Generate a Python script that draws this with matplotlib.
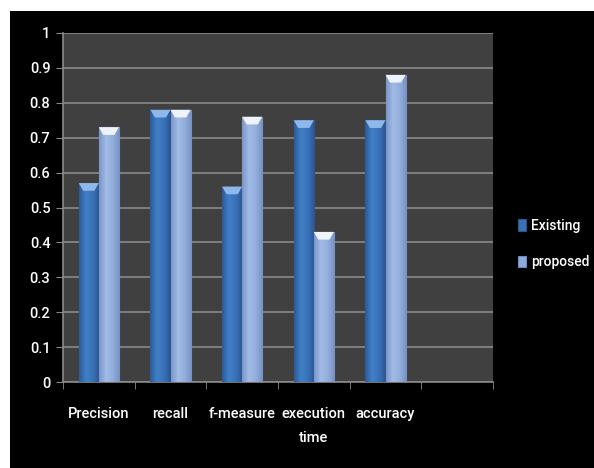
import numpy as np
import matplotlib.pyplot as plt
from matplotlib.patches import Rectangle
from matplotlib.colors import LinearSegmentedColormap

categories = ['Precision', 'recall', 'f-measure', 'execution\ntime', 'accuracy']
existing = [0.57, 0.78, 0.56, 0.75, 0.75]
proposed = [0.73, 0.78, 0.76, 0.43, 0.88]
yticks = [0, 0.1, 0.2, 0.3, 0.4, 0.5, 0.6, 0.7, 0.8, 0.9, 1]

plt.rcParams['font.family'] = ['Roboto', 'DejaVu Sans']
plt.rcParams['font.weight'] = 'medium'

fig = plt.figure(figsize=(5.94, 4.68), dpi=100, facecolor='white')
# black frame with thin white strip at left and top
fig.patches.append(Rectangle((10/594, 0), 1, 1 - 11/468, transform=fig.transFigure,
                             facecolor='black', edgecolor='none', zorder=-10))

ax = fig.add_axes([63/594, 1 - 382/468, 430/594, 349/468])
ax.set_facecolor('#404040')

x = np.arange(len(categories))
w = 0.28
b1 = ax.bar(x - w/2, existing, w, color='#3a70b5', edgecolor='#2a568e', linewidth=0.8,
            label='Existing', zorder=3)
b2 = ax.bar(x + w/2, proposed, w, color='#8ea9da', edgecolor='#6f8bbd', linewidth=0.8,
            label='proposed', zorder=3)

# horizontal shading and light bevel on the bar tops
grad1 = LinearSegmentedColormap.from_list('g1', ['#2b5a98', '#4080c8', '#3a72b8', '#2a5590'])
grad2 = LinearSegmentedColormap.from_list('g2', ['#7a95c8', '#a2bbe6', '#93aedd', '#7690c2'])
row = np.linspace(0, 1, 64).reshape(1, -1)
for bars, cmap, cap in ((b1, grad1, '#8fb8ea'), (b2, grad2, '#eef3fc')):
    for r in bars:
        x0, bw, h = r.get_x(), r.get_width(), r.get_height()
        im = ax.imshow(row, cmap=cmap, aspect='auto', extent=(x0, x0 + bw, 0, h),
                       zorder=3.5, interpolation='bicubic')
        im.set_clip_path(r)
        ax.fill([x0, x0 + bw, x0 + bw*0.78, x0 + bw*0.22],
                [h, h, h - 0.022, h - 0.022], color=cap, zorder=4, lw=0)

ax.set_xlim(-0.5, 5.5)
ax.set_ylim(0, 1)
ax.set_yticks(yticks)
ax.set_yticklabels([f'{v:g}' for v in yticks])
ax.yaxis.grid(True, color='#8a8a8a', linewidth=1.2, zorder=0)
ax.set_axisbelow(True)

ax.set_xticks(x)
ax.set_xticklabels(categories)
ax.set_xticks(np.arange(-0.5, 6.0, 1), minor=True)
ax.tick_params(axis='x', which='major', length=0, pad=18, colors='white', labelsize=10.5)
ax.tick_params(axis='x', which='minor', length=5, color='#8a8a8a', direction='out')
ax.tick_params(axis='y', length=5, color='#8a8a8a', colors='white', labelsize=10.5, pad=4)
for lab in ax.get_xticklabels():
    lab.set_linespacing(1.9)

for s in ['top', 'right']:
    ax.spines[s].set_visible(False)
for s in ['left', 'bottom']:
    ax.spines[s].set_color('#8a8a8a')
    ax.spines[s].set_linewidth(1.2)

leg = ax.legend(loc='center left', bbox_to_anchor=(1.035, 0.395), frameon=False,
                labelcolor='white', fontsize=10, handlelength=0.6, handleheight=0.9,
                handletextpad=0.35, labelspacing=1.6, borderaxespad=0.3)

fig.savefig('out.png', dpi=100, facecolor=fig.get_facecolor())
